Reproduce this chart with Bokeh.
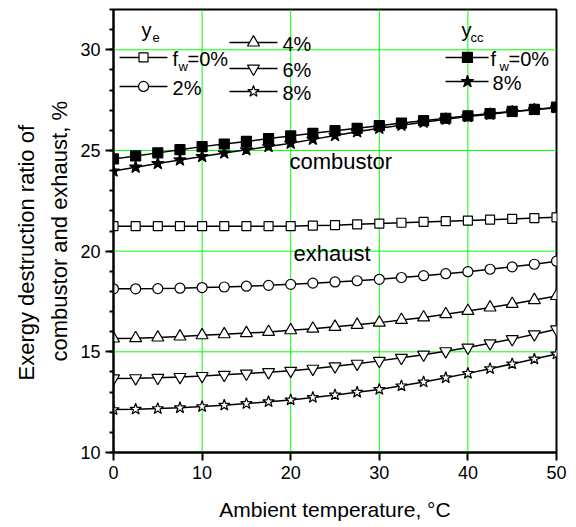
from bokeh.plotting import figure
from bokeh.models import Range1d, SingleIntervalTicker, Label, Span, Title
from bokeh.embed import file_html
from bokeh.resources import INLINE

# ---- data ----
temps = [0, 2.5, 5, 7.5, 10, 12.5, 15, 17.5, 20, 22.5, 25, 27.5, 30,
         32.5, 35, 37.5, 40, 42.5, 45, 47.5, 50]

ye_0 = [21.24, 21.24, 21.24, 21.24, 21.24, 21.24, 21.24, 21.24, 21.24, 21.27, 21.29,
        21.33, 21.37, 21.41, 21.45, 21.49, 21.52, 21.56, 21.60, 21.64, 21.68]
ye_2 = [18.13, 18.13, 18.14, 18.16, 18.19, 18.22, 18.26, 18.30, 18.35, 18.41, 18.47,
        18.53, 18.60, 18.69, 18.78, 18.88, 18.98, 19.10, 19.22, 19.35, 19.50]
ye_4 = [15.66, 15.68, 15.71, 15.76, 15.82, 15.87, 15.93, 15.99, 16.07, 16.15, 16.24,
        16.34, 16.45, 16.58, 16.71, 16.87, 17.03, 17.20, 17.38, 17.57, 17.77]
ye_6 = [13.68, 13.69, 13.71, 13.75, 13.80, 13.86, 13.92, 13.99, 14.06, 14.16, 14.28,
        14.41, 14.55, 14.70, 14.86, 15.03, 15.21, 15.42, 15.63, 15.87, 16.12]
ye_8 = [12.13, 12.15, 12.18, 12.22, 12.28, 12.35, 12.43, 12.52, 12.61, 12.73, 12.86,
        12.99, 13.13, 13.31, 13.50, 13.71, 13.93, 14.16, 14.40, 14.64, 14.89]
ycc_0 = [24.58, 24.73, 24.88, 25.04, 25.19, 25.32, 25.45, 25.59, 25.72, 25.85, 25.98,
         26.10, 26.23, 26.36, 26.48, 26.60, 26.72, 26.83, 26.94, 27.04, 27.15]
ycc_8 = [23.98, 24.17, 24.35, 24.53, 24.70, 24.87, 25.03, 25.20, 25.36, 25.55, 25.74,
         25.93, 26.10, 26.25, 26.40, 26.55, 26.68, 26.80, 26.92, 27.02, 27.12]

x_grid = [10, 20, 30, 40]
y_grid = [15, 20, 25, 30]

FONT = "Liberation Sans"
GREEN = "#00FF00"

p = figure(frame_width=443, frame_height=443,
           x_range=Range1d(0, 50), y_range=Range1d(10, 32),
           output_backend="svg", toolbar_location=None,
           min_border_left=113, min_border_right=12,
           min_border_top=9, min_border_bottom=72)

p.outline_line_color = "black"
p.outline_line_width = 2
p.background_fill_color = "white"
p.border_fill_color = "white"
p.xgrid.visible = False
p.ygrid.visible = False

for xv in x_grid:
    p.add_layout(Span(location=xv, dimension="height", line_color=GREEN,
                      line_width=1, level="underlay"))
for yv in y_grid:
    p.add_layout(Span(location=yv, dimension="width", line_color=GREEN,
                      line_width=1, level="underlay"))

p.xaxis.ticker = SingleIntervalTicker(interval=10, num_minor_ticks=0)
p.yaxis.ticker = SingleIntervalTicker(interval=5, num_minor_ticks=5)

for ax in (p.xaxis, p.yaxis):
    ax.axis_line_width = 2
    ax.axis_line_color = "black"
    ax.major_tick_line_width = 2
    ax.major_tick_out = 8
    ax.major_tick_in = 0
    ax.minor_tick_line_width = 2
    ax.minor_tick_out = 4
    ax.minor_tick_in = 0
    ax.major_label_text_font = FONT
    ax.major_label_text_font_size = "18px"
    ax.major_label_text_color = "black"
    ax.major_label_standoff = 5

p.xaxis.minor_tick_line_color = None
p.xaxis.axis_label = "Ambient temperature, °C"
p.xaxis.axis_label_text_font = FONT
p.xaxis.axis_label_text_font_size = "21px"
p.xaxis.axis_label_text_font_style = "normal"
p.xaxis.axis_label_text_color = "black"
p.xaxis.axis_label_standoff = 16

# y-axis title: two lines as left-side titles (closest line first)
has_pad = "padding" in Title.properties()
title_specs = (
    ("combustor and exhaust, %", 0, 85, "bottom", 6),
    ("Exergy destruction ratio of", 0, 72, "bottom", 0),
)
for line_text, standoff, off, valign, pad in title_specs:
    kw = {"padding": pad} if (has_pad and pad) else {}
    p.add_layout(Title(text=line_text, align="left", offset=off,
                       vertical_align=valign,
                       text_font=FONT, text_font_size="22px",
                       text_font_style="normal", text_color="black",
                       standoff=standoff, **kw), "left")

LW = 1.5
MLW = 1.2

series = [
    (ye_0, "square", 9, "white"),
    (ye_2, "circle", 10, "white"),
    (ye_4, "triangle", 12, "white"),
    (ye_6, "inverted_triangle", 12, "white"),
    (ye_8, "star", 12, "white"),
    (ycc_8, "star", 13, "black"),
    (ycc_0, "square", 10, "black"),
]
for ys, mk, sz, fill in series:
    p.line(temps, ys, line_color="black", line_width=LW)
    p.scatter(temps, ys, marker=mk, size=sz, fill_color=fill,
              line_color="black", line_width=MLW)

# ---- texts ----
DY = 0.28  # small upward nudge of text baselines

def txt(x, y, s, size="20px", align="left"):
    p.add_layout(Label(x=x, y=y + DY, text=s, text_font=FONT, text_font_size=size,
                       text_color="black", text_baseline="alphabetic",
                       text_align=align))

txt(19.86, 24.15, "combustor", "22px")
txt(20.32, 19.58, "exhaust", "22px")

# legend (y_e)
txt(3.16, 30.71, "y")
txt(4.40, 30.31, "e", "13px")

def sample(x0, x1, xm, y, mk, sz, fill):
    p.line([x0, x1], [y, y], line_color="black", line_width=LW)
    p.scatter([xm], [y], marker=mk, size=sz, fill_color=fill,
              line_color="black", line_width=MLW)

sample(0.68, 6.09, 3.39, 29.62, "square", 9, "white")
txt(6.66, 29.27, "f")
txt(7.34, 28.87, "w", "13px")
txt(8.35, 29.27, "=0%")
sample(0.68, 6.09, 3.39, 28.18, "circle", 10, "white")
txt(6.66, 27.83, "2%")

sample(13.09, 18.51, 15.8, 30.36, "triangle", 12, "white")
txt(19.07, 30.01, "4%")
sample(13.09, 18.51, 15.8, 29.07, "inverted_triangle", 12, "white")
txt(19.07, 28.72, "6%")
sample(13.09, 18.51, 15.8, 27.93, "star", 12, "white")
txt(19.07, 27.55, "8%")

# legend (y_cc)
txt(39.28, 30.71, "y")
txt(40.29, 30.31, "cc", "13px")
sample(37.47, 42.33, 39.95, 29.62, "square", 10, "black")
txt(42.55, 29.27, "f")
txt(43.57, 28.87, "w", "13px")
txt(44.58, 29.27, "=0%")
sample(37.47, 42.33, 39.95, 28.42, "star", 13, "black")
txt(42.78, 28.08, "8%")

open("out.html", "w").write(file_html(p, INLINE))
